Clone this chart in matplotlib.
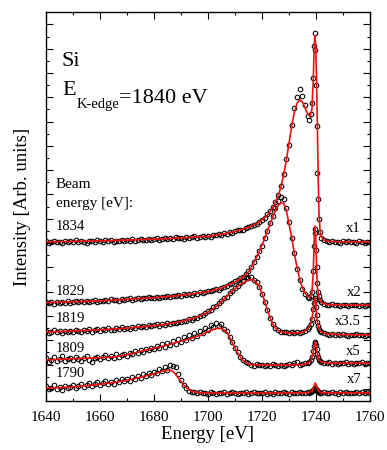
import matplotlib
matplotlib.use("Agg")
import matplotlib.pyplot as plt
from matplotlib.ticker import FixedLocator, MultipleLocator

plt.rcParams['font.family'] = ['Liberation Serif', 'DejaVu Serif']

# ---------------- data ----------------
energy = (list(range(1640, 1737)) +
          [1737, 1737.5, 1738, 1738.5, 1739, 1739.25, 1739.5, 1739.75,
           1740, 1740.25, 1740.5, 1740.75, 1741, 1741.5, 1742] +
          list(range(1743, 1761)))

pts_1834 = [
    6.58, 6.52, 6.55, 6.60, 6.53, 6.56, 6.50, 6.59, 6.54, 6.57,
    6.55, 6.61, 6.53, 6.58, 6.56, 6.52, 6.60, 6.57, 6.55, 6.62,
    6.58, 6.54, 6.61, 6.57, 6.63, 6.56, 6.60, 6.58, 6.64, 6.59,
    6.62, 6.58, 6.65, 6.60, 6.63, 6.67, 6.61, 6.64, 6.68, 6.62,
    6.66, 6.70, 6.64, 6.68, 6.72, 6.66, 6.70, 6.67, 6.73, 6.69,
    6.72, 6.68, 6.75, 6.71, 6.74, 6.78, 6.72, 6.76, 6.80, 6.75,
    6.80, 6.77, 6.84, 6.82, 6.88, 6.85, 6.91, 6.89, 6.96, 6.93,
    6.99, 7.02, 7.05, 7.03, 7.12, 7.16, 7.20, 7.24, 7.30, 7.36,
    7.44, 7.55, 7.68, 7.80, 7.98, 8.20, 8.48, 8.85, 9.35, 9.95,
    10.55, 11.35, 12.05, 12.50, 12.85, 12.55, 12.20,
    11.75, 11.55, 11.80, 12.25, 13.30, 14.60, 15.15, 14.45,
    13.00, 11.30, 9.40, 8.30, 7.50, 6.95, 6.72,
    6.62, 6.58, 6.55, 6.59, 6.53, 6.56, 6.52, 6.57, 6.54, 6.58,
    6.53, 6.56, 6.51, 6.57, 6.54, 6.52, 6.56, 6.53]

pts_1829 = [
    4.08, 4.02, 4.06, 4.01, 4.09, 4.04, 4.07, 4.03, 4.10, 4.05,
    4.08, 4.12, 4.06, 4.10, 4.07, 4.13, 4.09, 4.11, 4.15, 4.08,
    4.13, 4.10, 4.16, 4.12, 4.18, 4.14, 4.17, 4.13, 4.20, 4.16,
    4.19, 4.22, 4.17, 4.21, 4.24, 4.19, 4.25, 4.22, 4.27, 4.23,
    4.26, 4.29, 4.24, 4.30, 4.27, 4.32, 4.29, 4.34, 4.31, 4.36,
    4.34, 4.39, 4.36, 4.41, 4.38, 4.44, 4.42, 4.47, 4.45, 4.50,
    4.53, 4.51, 4.57, 4.60, 4.58, 4.66, 4.70, 4.73, 4.80, 4.84,
    4.92, 4.97, 5.05, 5.12, 5.22, 5.35, 5.50, 5.72, 5.92, 6.18,
    6.40, 6.72, 7.00, 7.32, 7.62, 7.95, 8.25, 8.40, 8.30, 7.95,
    7.35, 6.70, 6.10, 5.45, 5.00, 4.62, 4.40,
    4.30, 4.24, 4.33, 4.50, 5.35, 6.40, 7.10, 6.90,
    6.20, 5.50, 4.85, 4.50, 4.32, 4.15, 4.06,
    4.00, 3.97, 3.95, 3.98, 3.94, 3.96, 3.93, 3.97, 3.95, 3.92,
    3.96, 3.94, 3.97, 3.93, 3.95, 3.92, 3.96, 3.94]

pts_1819 = [
    2.88, 2.80, 2.85, 2.91, 2.82, 2.87, 2.79, 2.90, 2.84, 2.88,
    2.85, 2.92, 2.87, 2.83, 2.93, 2.89, 2.95, 2.86, 2.91, 2.97,
    2.90, 2.96, 2.92, 2.99, 2.94, 2.91, 3.00, 2.95, 3.03, 2.98,
    3.02, 2.97, 3.05, 3.01, 3.07, 3.03, 3.09, 3.05, 3.12, 3.07,
    3.11, 3.15, 3.09, 3.17, 3.14, 3.20, 3.16, 3.23, 3.19, 3.27,
    3.24, 3.31, 3.28, 3.36, 3.33, 3.42, 3.40, 3.50, 3.54, 3.62,
    3.70, 3.76, 3.85, 3.90, 4.02, 4.10, 4.24, 4.30, 4.46, 4.52,
    4.66, 4.72, 4.85, 4.95, 5.10, 5.05, 5.12, 5.00, 4.90, 4.68,
    4.40, 4.08, 3.75, 3.40, 3.18, 3.02, 2.92, 2.86, 2.82, 2.84,
    2.78, 2.83, 2.80, 2.85, 2.81, 2.86, 2.90,
    2.98, 3.05, 3.15, 3.38, 3.80, 4.05, 4.25, 4.15,
    3.85, 3.55, 3.25, 3.08, 2.98, 2.90, 2.83,
    2.78, 2.76, 2.73, 2.77, 2.71, 2.74, 2.70, 2.75, 2.72, 2.69,
    2.73, 2.71, 2.74, 2.70, 2.72, 2.69, 2.73, 2.71]

pts_1809 = [
    1.75, 1.62, 1.70, 1.80, 1.66, 1.73, 1.85, 1.64, 1.72, 1.78,
    1.68, 1.82, 1.74, 1.66, 1.79, 1.85, 1.70, 1.62, 1.76, 1.83,
    1.72, 1.80, 1.88, 1.75, 1.84, 1.78, 1.92, 1.83, 1.88, 1.95,
    1.86, 1.98, 1.92, 2.05, 1.96, 2.10, 2.02, 2.15, 2.08, 2.20,
    2.12, 2.28, 2.18, 2.35, 2.22, 2.40, 2.30, 2.48, 2.36, 2.55,
    2.42, 2.62, 2.50, 2.70, 2.58, 2.78, 2.66, 2.90, 2.80, 3.02,
    2.92, 3.12, 3.05, 3.20, 3.08, 3.15, 2.98, 2.88, 2.62, 2.42,
    2.20, 2.00, 1.82, 1.70, 1.60, 1.55, 1.50, 1.46, 1.52, 1.47,
    1.50, 1.45, 1.49, 1.46, 1.51, 1.47, 1.44, 1.50, 1.46, 1.49,
    1.52, 1.47, 1.55, 1.60, 1.50, 1.53, 1.55,
    1.56, 1.62, 1.68, 1.80, 2.05, 2.25, 2.40, 2.42,
    2.32, 2.15, 1.95, 1.80, 1.70, 1.63, 1.60,
    1.57, 1.55, 1.60, 1.54, 1.58, 1.53, 1.57, 1.55, 1.59, 1.54,
    1.57, 1.53, 1.58, 1.55, 1.60, 1.54, 1.57, 1.56]

pts_1790 = [
    0.60, 0.48, 0.55, 0.65, 0.50, 0.58, 0.45, 0.62, 0.53, 0.57,
    0.66, 0.52, 0.60, 0.70, 0.56, 0.64, 0.74, 0.60, 0.68, 0.78,
    0.66, 0.75, 0.82, 0.70, 0.80, 0.72, 0.86, 0.78, 0.90, 0.82,
    0.92, 0.84, 0.98, 0.90, 1.04, 0.96, 1.10, 1.02, 1.16, 1.08,
    1.20, 1.14, 1.30, 1.22, 1.40, 1.28, 1.48, 1.45, 1.38, 1.12,
    0.85, 0.66, 0.52, 0.42, 0.38, 0.35, 0.32, 0.36, 0.31, 0.34,
    0.30, 0.35, 0.32, 0.29, 0.34, 0.31, 0.36, 0.30, 0.33, 0.35,
    0.31, 0.29, 0.34, 0.32, 0.36, 0.30, 0.33, 0.35, 0.31, 0.34,
    0.32, 0.36, 0.30, 0.33, 0.29, 0.35, 0.31, 0.34, 0.37, 0.32,
    0.30, 0.35, 0.33, 0.31, 0.36, 0.32, 0.34,
    0.35, 0.33, 0.38, 0.40, 0.45, 0.50, 0.52, 0.48,
    0.50, 0.44, 0.40, 0.37, 0.36, 0.34, 0.33,
    0.35, 0.31, 0.34, 0.36, 0.32, 0.30, 0.35, 0.33, 0.37, 0.31,
    0.34, 0.32, 0.36, 0.33, 0.38, 0.31, 0.35, 0.34]

fit_e_1834 = [1640, 1660, 1680, 1690, 1700, 1705, 1710, 1715, 1718, 1720, 1722,
              1724, 1726, 1727, 1728, 1729, 1730, 1731, 1732, 1733, 1734, 1735,
              1736, 1737, 1737.8, 1738.5, 1739, 1739.3, 1739.6, 1739.9, 1740.2,
              1740.5, 1740.8, 1741.1, 1741.5, 1742, 1743, 1745, 1750, 1760]
fit_1834 = [6.55, 6.59, 6.66, 6.71, 6.78, 6.86, 6.98, 7.15, 7.30, 7.45, 7.65,
            7.95, 8.45, 8.80, 9.30, 9.90, 10.60, 11.30, 11.90, 12.25, 12.40, 12.30,
            12.05, 11.80, 11.72, 12.00, 13.20, 14.50, 15.05, 14.60, 13.30,
            11.50, 9.30, 7.80, 7.00, 6.75, 6.62, 6.57, 6.55, 6.55]

fit_e_1829 = [1640, 1660, 1680, 1690, 1700, 1705, 1710, 1713, 1715.6, 1717, 1719,
              1721, 1723, 1725, 1726, 1727, 1728, 1729, 1730, 1731, 1732, 1733,
              1734, 1735, 1736, 1737, 1737.8, 1738.5, 1739, 1739.3, 1739.6,
              1739.9, 1740.2, 1740.5, 1741, 1742, 1744, 1750, 1760]
fit_1829 = [4.05, 4.12, 4.25, 4.35, 4.50, 4.65, 4.90, 5.10, 5.39, 5.70, 6.15,
            6.70, 7.30, 7.85, 8.05, 8.15, 8.15, 7.85, 7.30, 6.75, 6.05, 5.50,
            5.00, 4.65, 4.42, 4.30, 4.28, 4.45, 5.30, 6.50, 7.20,
            6.80, 5.60, 4.70, 4.30, 4.05, 3.97, 3.95, 3.95]

fit_e_1819 = [1640, 1650, 1660, 1670, 1680, 1685, 1690, 1695, 1698, 1700, 1702,
              1704, 1706, 1708, 1710, 1712, 1714, 1715, 1716, 1717, 1718, 1719,
              1720, 1721, 1722, 1723, 1724, 1725, 1726, 1727, 1730, 1733, 1735,
              1736, 1737, 1738, 1738.5, 1739, 1739.3, 1739.6, 1739.9, 1740.2,
              1740.6, 1741, 1742, 1744, 1750, 1760]
fit_1819 = [2.84, 2.88, 2.93, 3.00, 3.10, 3.17, 3.27, 3.42, 3.55, 3.66, 3.80,
            3.98, 4.20, 4.42, 4.62, 4.80, 4.92, 4.97, 5.00, 4.98, 4.86, 4.70,
            4.44, 4.10, 3.74, 3.42, 3.17, 3.00, 2.90, 2.84, 2.80, 2.80, 2.83,
            2.88, 2.98, 3.15, 3.35, 3.80, 4.10, 4.25, 4.05, 3.60,
            3.20, 2.98, 2.84, 2.76, 2.73, 2.72]

fit_e_1809 = [1640, 1650, 1660, 1665, 1670, 1677, 1683, 1689, 1693, 1697, 1700,
              1702, 1704, 1705, 1706, 1707, 1708, 1709, 1710, 1711, 1712, 1713,
              1714, 1716, 1720, 1730, 1735, 1737, 1738, 1738.8, 1739.3, 1739.7,
              1740.1, 1740.5, 1741, 1742, 1745, 1760]
fit_1809 = [1.69, 1.74, 1.78, 1.81, 1.90, 2.10, 2.25, 2.43, 2.55, 2.70, 2.85,
            2.95, 3.00, 2.98, 2.92, 2.82, 2.62, 2.40, 2.18, 1.98, 1.80, 1.67,
            1.57, 1.50, 1.48, 1.48, 1.50, 1.55, 1.65, 1.90, 2.25, 2.43,
            2.30, 1.95, 1.70, 1.60, 1.56, 1.56]

fit_e_1790 = [1640, 1650, 1658, 1665, 1670, 1675, 1680, 1683, 1685, 1686, 1687,
              1688, 1689, 1690, 1691, 1692, 1693, 1694, 1696, 1700, 1730, 1737,
              1738.5, 1739.2, 1739.7, 1740.2, 1740.8, 1742, 1760]
fit_1790 = [0.53, 0.58, 0.66, 0.76, 0.85, 0.98, 1.12, 1.22, 1.27, 1.27, 1.22,
            1.10, 0.95, 0.80, 0.66, 0.55, 0.46, 0.40, 0.35, 0.33, 0.33, 0.34,
            0.40, 0.60, 0.74, 0.65, 0.42, 0.34, 0.33]

beam_labels = ["1834", "1829", "1819", "1809", "1790"]
scale_labels = ["x1", "x2", "x3.5", "x5", "x7"]
beam_label_y = [7.04, 4.36, 3.25, 2.02, 0.99]
scale_label_y = [6.95, 4.32, 3.13, 1.89, 0.74]

series = [(pts_1834, fit_e_1834, fit_1834),
          (pts_1829, fit_e_1829, fit_1829),
          (pts_1819, fit_e_1819, fit_1819),
          (pts_1809, fit_e_1809, fit_1809),
          (pts_1790, fit_e_1790, fit_1790)]

xticks = [1640, 1660, 1680, 1700, 1720, 1740, 1760]

# ---------------- plot ----------------
fig = plt.figure(figsize=(3.87, 4.50), dpi=100)
ax = fig.add_axes([0.1189, 0.1089, 0.956 - 0.1189, 0.9727 - 0.1089])

for pts, fe, fv in series:
    ax.plot(energy, pts, linestyle='none', marker='o', ms=3.3, mfc='none',
            mec='black', mew=0.75, zorder=2)
    ax.plot(fe, fv, color='#f01010', lw=1.2, zorder=3)

ax.set_xlim(1640, 1760)
ax.set_ylim(0, 16)
ax.set_xticks(xticks)
ax.set_xticklabels([str(t) for t in xticks], fontsize=11)
ax.xaxis.set_minor_locator(MultipleLocator(10))
ax.yaxis.set_major_locator(FixedLocator([0.5 + k for k in range(16)]))
ax.yaxis.set_minor_locator(FixedLocator([float(k) for k in range(1, 16)]))
ax.set_yticklabels([])
ax.tick_params(which='both', direction='in', top=True, right=True, width=0.8)
ax.tick_params(which='major', length=5, pad=7)
ax.tick_params(which='minor', length=2.5)
for s in ax.spines.values():
    s.set_linewidth(1.0)

ax.set_xlabel("Energy [eV]", fontsize=13.5, labelpad=2)
ax.set_ylabel("Intensity [Arb. units]", fontsize=13.5, labelpad=4)

ax.text(1645.9, 13.79, "Si", fontsize=16, va='baseline', ha='left')
t1 = ax.text(1645.9, 12.59, "E", fontsize=16, va='baseline', ha='left')
t2 = ax.annotate("K-edge", xy=(1.0, 0.0), xycoords=t1, xytext=(0.5, -6),
                 textcoords='offset points', fontsize=10.5, va='baseline', ha='left')
ax.annotate("=1840 eV", xy=(1.0, 0.0), xycoords=t2, xytext=(0.3, 6),
            textcoords='offset points', fontsize=16, va='baseline', ha='left')

ax.text(1643.7, 8.77, "Beam", fontsize=11, va='baseline', ha='left')
ax.text(1643.7, 7.98, "energy [eV]:", fontsize=11, va='baseline', ha='left')

for lab, yy in zip(beam_labels, beam_label_y):
    ax.text(1643.7, yy, lab, fontsize=10.5, va='baseline', ha='left')
for lab, yy in zip(scale_labels, scale_label_y):
    ax.text(1756.7, yy, lab, fontsize=10.5, va='baseline', ha='right')

fig.savefig("out.png", dpi=100)
